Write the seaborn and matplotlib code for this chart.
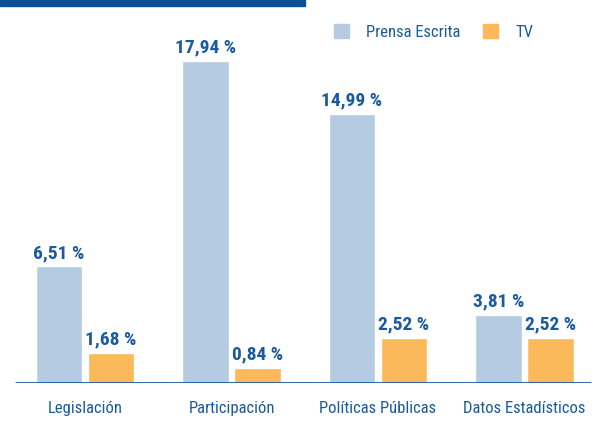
import pandas as pd
import matplotlib.pyplot as plt
import seaborn as sns
from matplotlib.patches import Rectangle

# Data
categories = ['Legislación', 'Participación', 'Políticas Públicas', 'Datos Estadísticos']
prensa = [6.51, 17.94, 14.99, 3.81]
tv = [1.68, 0.84, 2.52, 2.52]
series = ['Prensa Escrita', 'TV']

blue_bar = '#b4cbe1'
orange_bar = '#fbb95b'
text_blue = '#1a5a9e'
dark_blue = '#0b4f97'

data = pd.DataFrame({
    'categoria': categories * 2,
    'serie': [series[0]] * len(categories) + [series[1]] * len(categories),
    'valor': prensa + tv,
})

sns.set_style('white')
plt.rcParams['font.family'] = ['Roboto Condensed', 'DejaVu Sans']

fig = plt.figure(figsize=(5.92, 4.23), dpi=100)
ax = fig.add_axes([0, 40 / 423, 1, 383 / 423])

sns.barplot(data=data, x='categoria', y='valor', hue='serie',
            palette=[blue_bar, orange_bar], width=0.71, gap=0.115,
            saturation=1, ax=ax, legend=False)

ax.set_xlim(-85 / 146.5, (592 - 85) / 146.5)
ax.set_ylim(0, 383 / 17.95)

# value labels above each bar, decimal comma
for container in ax.containers:
    ax.bar_label(container, labels=[f'{v:.2f} %'.replace('.', ',') for v in container.datavalues],
                 padding=3, color=text_blue, fontsize=14, fontweight='bold')

# baseline
ax.axhline(0, xmin=16 / 592, xmax=590 / 592, color=text_blue, lw=2)
for s in ax.spines.values():
    s.set_visible(False)
ax.set_yticks([])
ax.set_xlabel('')
ax.set_ylabel('')
ax.tick_params(axis='x', length=0, pad=13, labelsize=12, labelcolor=text_blue)

# legend drawn with proxy squares
handles = [Rectangle((0, 0), 1, 1, color=c) for c in (blue_bar, orange_bar)]
ax.legend(handles, series, ncol=2, frameon=False, loc='upper left',
          bbox_to_anchor=(319 / 592, 1 - 9 / 383), fontsize=12,
          labelcolor=text_blue, handlelength=0.9, handleheight=0.9,
          handletextpad=1.0, columnspacing=1.4)

# dark strip at the top
fig.patches.append(Rectangle((0, 1 - 6 / 423), 305 / 592, 6 / 423,
                             transform=fig.transFigure, color=dark_blue))

fig.savefig('out.png', dpi=100)
